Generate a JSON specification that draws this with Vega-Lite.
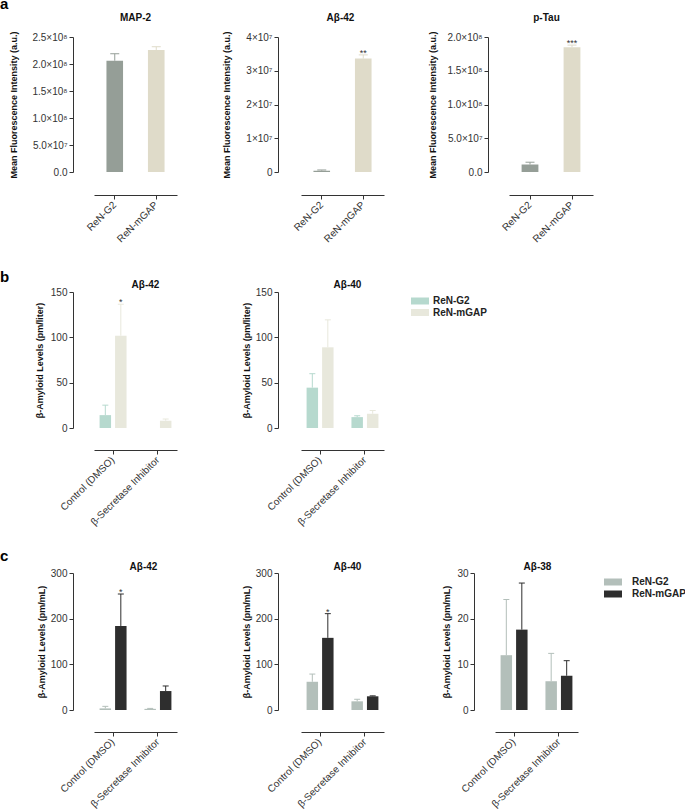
{
  "$schema": "https://vega.github.io/schema/vega-lite/v6.json",
  "padding": {"left": 0, "top": -3, "right": 5, "bottom": 5},
  "background": "white",
  "columns": 3,
  "spacing": {"row": 120, "column": 111},
  "bounds": "flush",
  "resolve": {"scale": {"color": "independent"}, "legend": {"color": "independent"}},
  "datasets": {
    "fluor": [
      {"panel": "MAP-2", "strain": "ReN-G2", "mean": 206000000, "upper": 219000000, "sig": ""},
      {"panel": "MAP-2", "strain": "ReN-mGAP", "mean": 226000000, "upper": 232000000, "sig": ""},
      {"panel": "Aβ-42", "strain": "ReN-G2", "mean": 400000, "upper": 600000, "sig": ""},
      {"panel": "Aβ-42", "strain": "ReN-mGAP", "mean": 33600000, "upper": 34700000, "sig": "**"},
      {"panel": "p-Tau", "strain": "ReN-G2", "mean": 11000000, "upper": 14500000, "sig": ""},
      {"panel": "p-Tau", "strain": "ReN-mGAP", "mean": 185000000, "upper": 188000000, "sig": "***"}
    ],
    "elisaB": [
      {"panel": "Aβ-42", "treatment": "Control (DMSO)", "strain": "ReN-G2", "mean": 14.2, "upper": 25.2, "sig": ""},
      {"panel": "Aβ-42", "treatment": "Control (DMSO)", "strain": "ReN-mGAP", "mean": 101.8, "upper": 136.5, "sig": "*"},
      {"panel": "Aβ-42", "treatment": "β-Secretase Inhibitor", "strain": "ReN-mGAP", "mean": 8.0, "upper": 9.9, "sig": ""},
      {"panel": "Aβ-40", "treatment": "Control (DMSO)", "strain": "ReN-G2", "mean": 44.5, "upper": 59.9, "sig": ""},
      {"panel": "Aβ-40", "treatment": "Control (DMSO)", "strain": "ReN-mGAP", "mean": 89.0, "upper": 119.3, "sig": ""},
      {"panel": "Aβ-40", "treatment": "β-Secretase Inhibitor", "strain": "ReN-G2", "mean": 12.0, "upper": 13.5, "sig": ""},
      {"panel": "Aβ-40", "treatment": "β-Secretase Inhibitor", "strain": "ReN-mGAP", "mean": 15.7, "upper": 19.3, "sig": ""}
    ],
    "elisaC": [
      {"panel": "Aβ-42", "treatment": "Control (DMSO)", "strain": "ReN-G2", "mean": 3.5, "upper": 8.0, "sig": ""},
      {"panel": "Aβ-42", "treatment": "Control (DMSO)", "strain": "ReN-mGAP", "mean": 184, "upper": 254, "sig": "*"},
      {"panel": "Aβ-42", "treatment": "β-Secretase Inhibitor", "strain": "ReN-G2", "mean": 2.5, "upper": 3.5, "sig": ""},
      {"panel": "Aβ-42", "treatment": "β-Secretase Inhibitor", "strain": "ReN-mGAP", "mean": 41.5, "upper": 52.6, "sig": ""},
      {"panel": "Aβ-40", "treatment": "Control (DMSO)", "strain": "ReN-G2", "mean": 61.8, "upper": 78.7, "sig": ""},
      {"panel": "Aβ-40", "treatment": "Control (DMSO)", "strain": "ReN-mGAP", "mean": 158, "upper": 211, "sig": "*"},
      {"panel": "Aβ-40", "treatment": "β-Secretase Inhibitor", "strain": "ReN-G2", "mean": 19.0, "upper": 23.5, "sig": ""},
      {"panel": "Aβ-40", "treatment": "β-Secretase Inhibitor", "strain": "ReN-mGAP", "mean": 30.0, "upper": 31.0, "sig": ""},
      {"panel": "Aβ-38", "treatment": "Control (DMSO)", "strain": "ReN-G2", "mean": 12.0, "upper": 24.2, "sig": ""},
      {"panel": "Aβ-38", "treatment": "Control (DMSO)", "strain": "ReN-mGAP", "mean": 17.6, "upper": 27.8, "sig": ""},
      {"panel": "Aβ-38", "treatment": "β-Secretase Inhibitor", "strain": "ReN-G2", "mean": 6.3, "upper": 12.4, "sig": ""},
      {"panel": "Aβ-38", "treatment": "β-Secretase Inhibitor", "strain": "ReN-mGAP", "mean": 7.5, "upper": 10.8, "sig": ""}
    ],
    "blank": [{"x": 0}]
  },
  "concat": [
    {
      "width": 96, "height": 135,
      "title": {"text": "a", "anchor": "start", "frame": "group", "dx": -94, "offset": 0, "fontSize": 15, "color": "#000"},
      "data": {"name": "fluor"},
      "transform": [{"filter": "datum.panel === 'MAP-2'"}],
      "encoding": {
        "x": {"field": "strain", "type": "nominal",
          "scale": {"domain": ["ReN-G2", "ReN-mGAP"], "range": [0, 83], "paddingInner": 0.6, "paddingOuter": 0.3},
          "axis": {"title": "MAP-2", "offset": 23, "titleX": 41, "titleY": -178}},
        "color": {"field": "strain", "type": "nominal", "scale": {"domain": ["ReN-G2", "ReN-mGAP"], "range": ["#959e97", "#dfdbc9"]}, "legend": null}
      },
      "layer": [
        {"mark": {"type": "bar"}, "encoding": {"y": {"field": "mean", "type": "quantitative", "title": "Mean Fluorescence Intensity (a.u.)", "scale": {"domain": [0, 250000000], "nice": false},
          "axis": {"offset": 21, "values": [0, 50000000, 100000000, 150000000, 200000000, 250000000], "labelOverlap": false, "titlePadding": 13, "labelExpr": "datum.value == 0 ? '0.0' : datum.value < 100000000 ? format(datum.value/10000000, '.1f') + '×10⁷' : format(datum.value/100000000, '.1f') + '×10⁸'"}}}},
        {"mark": {"type": "rule", "strokeWidth": 1}, "encoding": {"y": {"field": "mean", "type": "quantitative", "title": "Mean Fluorescence Intensity (a.u.)",
          "axis": {"offset": 21, "values": [0, 50000000, 100000000, 150000000, 200000000, 250000000], "labelOverlap": false, "titlePadding": 13, "labelExpr": "datum.value == 0 ? '0.0' : datum.value < 100000000 ? format(datum.value/10000000, '.1f') + '×10⁷' : format(datum.value/100000000, '.1f') + '×10⁸'"}}, "y2": {"field": "upper"}}},
        {"mark": {"type": "tick", "size": 9, "thickness": 1}, "encoding": {"y": {"field": "upper", "type": "quantitative", "title": "Mean Fluorescence Intensity (a.u.)",
          "axis": {"offset": 21, "values": [0, 50000000, 100000000, 150000000, 200000000, 250000000], "labelOverlap": false, "titlePadding": 13, "labelExpr": "datum.value == 0 ? '0.0' : datum.value < 100000000 ? format(datum.value/10000000, '.1f') + '×10⁷' : format(datum.value/100000000, '.1f') + '×10⁸'"}}}},
        {"mark": {"type": "text", "dy": -2, "fontSize": 9}, "encoding": {"y": {"field": "upper", "type": "quantitative", "title": "Mean Fluorescence Intensity (a.u.)",
          "axis": {"offset": 21, "values": [0, 50000000, 100000000, 150000000, 200000000, 250000000], "labelOverlap": false, "titlePadding": 13, "labelExpr": "datum.value == 0 ? '0.0' : datum.value < 100000000 ? format(datum.value/10000000, '.1f') + '×10⁷' : format(datum.value/100000000, '.1f') + '×10⁸'"}}, "text": {"field": "sig"}, "color": {"value": "#333"}}}
      ]
    },
    {
      "width": 83, "height": 135,
      "data": {"name": "fluor"},
      "transform": [{"filter": "datum.panel === 'Aβ-42'"}],
      "encoding": {
        "x": {"field": "strain", "type": "nominal",
          "scale": {"domain": ["ReN-G2", "ReN-mGAP"], "paddingInner": 0.6, "paddingOuter": 0.3},
          "axis": {"title": "Aβ-42", "offset": 23, "titleX": 39, "titleY": -178}},
        "color": {"field": "strain", "type": "nominal", "scale": {"domain": ["ReN-G2", "ReN-mGAP"], "range": ["#959e97", "#dfdbc9"]}, "legend": null}
      },
      "layer": [
        {"mark": {"type": "bar"}, "encoding": {"y": {"field": "mean", "type": "quantitative", "title": "Mean Fluorescence Intensity (a.u.)", "scale": {"domain": [0, 40000000], "nice": false},
          "axis": {"offset": 23, "values": [0, 10000000, 20000000, 30000000, 40000000], "labelOverlap": false, "titlePadding": 14, "labelExpr": "datum.value == 0 ? '0' : format(datum.value/10000000, 'd') + '×10⁷'"}}}},
        {"mark": {"type": "rule", "strokeWidth": 1}, "encoding": {"y": {"field": "mean", "type": "quantitative", "title": "Mean Fluorescence Intensity (a.u.)",
          "axis": {"offset": 23, "values": [0, 10000000, 20000000, 30000000, 40000000], "labelOverlap": false, "titlePadding": 14, "labelExpr": "datum.value == 0 ? '0' : format(datum.value/10000000, 'd') + '×10⁷'"}}, "y2": {"field": "upper"}}},
        {"mark": {"type": "tick", "size": 9, "thickness": 1}, "encoding": {"y": {"field": "upper", "type": "quantitative", "title": "Mean Fluorescence Intensity (a.u.)",
          "axis": {"offset": 23, "values": [0, 10000000, 20000000, 30000000, 40000000], "labelOverlap": false, "titlePadding": 14, "labelExpr": "datum.value == 0 ? '0' : format(datum.value/10000000, 'd') + '×10⁷'"}}}},
        {"mark": {"type": "text", "dy": -2, "fontSize": 9}, "encoding": {"y": {"field": "upper", "type": "quantitative", "title": "Mean Fluorescence Intensity (a.u.)",
          "axis": {"offset": 23, "values": [0, 10000000, 20000000, 30000000, 40000000], "labelOverlap": false, "titlePadding": 14, "labelExpr": "datum.value == 0 ? '0' : format(datum.value/10000000, 'd') + '×10⁷'"}}, "text": {"field": "sig"}, "color": {"value": "#333"}}}
      ]
    },
    {
      "width": 98, "height": 135,
      "data": {"name": "fluor"},
      "transform": [{"filter": "datum.panel === 'p-Tau'"}],
      "encoding": {
        "x": {"field": "strain", "type": "nominal",
          "scale": {"domain": ["ReN-G2", "ReN-mGAP"], "range": [14, 98], "paddingInner": 0.6, "paddingOuter": 0.3},
          "axis": {"title": "p-Tau", "offset": 23, "titleX": 51, "titleY": -178}},
        "color": {"field": "strain", "type": "nominal", "scale": {"domain": ["ReN-G2", "ReN-mGAP"], "range": ["#959e97", "#dfdbc9"]}, "legend": null}
      },
      "layer": [
        {"mark": {"type": "bar"}, "encoding": {"y": {"field": "mean", "type": "quantitative", "title": "Mean Fluorescence Intensity (a.u.)", "scale": {"domain": [0, 200000000], "nice": false},
          "axis": {"offset": 7, "values": [0, 50000000, 100000000, 150000000, 200000000], "labelOverlap": false, "titlePadding": 9, "labelExpr": "datum.value == 0 ? '0.0' : datum.value < 100000000 ? format(datum.value/10000000, '.1f') + '×10⁷' : format(datum.value/100000000, '.1f') + '×10⁸'"}}}},
        {"mark": {"type": "rule", "strokeWidth": 1}, "encoding": {"y": {"field": "mean", "type": "quantitative", "title": "Mean Fluorescence Intensity (a.u.)",
          "axis": {"offset": 7, "values": [0, 50000000, 100000000, 150000000, 200000000], "labelOverlap": false, "titlePadding": 9, "labelExpr": "datum.value == 0 ? '0.0' : datum.value < 100000000 ? format(datum.value/10000000, '.1f') + '×10⁷' : format(datum.value/100000000, '.1f') + '×10⁸'"}}, "y2": {"field": "upper"}}},
        {"mark": {"type": "tick", "size": 9, "thickness": 1}, "encoding": {"y": {"field": "upper", "type": "quantitative", "title": "Mean Fluorescence Intensity (a.u.)",
          "axis": {"offset": 7, "values": [0, 50000000, 100000000, 150000000, 200000000], "labelOverlap": false, "titlePadding": 9, "labelExpr": "datum.value == 0 ? '0.0' : datum.value < 100000000 ? format(datum.value/10000000, '.1f') + '×10⁷' : format(datum.value/100000000, '.1f') + '×10⁸'"}}}},
        {"mark": {"type": "text", "dy": -2, "fontSize": 9}, "encoding": {"y": {"field": "upper", "type": "quantitative", "title": "Mean Fluorescence Intensity (a.u.)",
          "axis": {"offset": 7, "values": [0, 50000000, 100000000, 150000000, 200000000], "labelOverlap": false, "titlePadding": 9, "labelExpr": "datum.value == 0 ? '0.0' : datum.value < 100000000 ? format(datum.value/10000000, '.1f') + '×10⁷' : format(datum.value/100000000, '.1f') + '×10⁸'"}}, "text": {"field": "sig"}, "color": {"value": "#333"}}}
      ]
    },
    {
      "width": 96, "height": 136,
      "title": {"text": "b", "anchor": "start", "frame": "group", "dx": -94, "offset": -5, "fontSize": 15, "color": "#000"},
      "data": {"name": "elisaB"},
      "transform": [{"filter": "datum.panel === 'Aβ-42'"}],
      "encoding": {
        "x": {"field": "treatment", "type": "nominal",
          "scale": {"domain": ["Control (DMSO)", "β-Secretase Inhibitor"], "range": [0, 83], "paddingInner": 0.15, "paddingOuter": 0},
          "axis": {"title": "Aβ-42", "offset": 22, "titleX": 51, "titleY": -165.5}},
        "xOffset": {"field": "strain", "type": "nominal", "scale": {"domain": ["ReN-G2", "ReN-mGAP"], "paddingInner": 0.26, "paddingOuter": 0.36}},
        "color": {"field": "strain", "type": "nominal", "scale": {"domain": ["ReN-G2", "ReN-mGAP"], "range": ["#b6d9ce", "#e8e8dc"]}, "legend": null}
      },
      "layer": [
        {"mark": {"type": "bar"}, "encoding": {"y": {"field": "mean", "type": "quantitative", "title": "β-Amyloid Levels (pm/liter)", "scale": {"domain": [0, 150], "nice": false},
          "axis": {"offset": 21, "values": [0, 50, 100, 150], "labelOverlap": false, "titlePadding": 6}}}},
        {"mark": {"type": "rule", "strokeWidth": 1}, "encoding": {"y": {"field": "mean", "type": "quantitative", "title": "β-Amyloid Levels (pm/liter)", "axis": {"offset": 21, "values": [0, 50, 100, 150], "labelOverlap": false, "titlePadding": 6}}, "y2": {"field": "upper"}}},
        {"mark": {"type": "tick", "size": 6, "thickness": 1}, "encoding": {"y": {"field": "upper", "type": "quantitative", "title": "β-Amyloid Levels (pm/liter)", "axis": {"offset": 21, "values": [0, 50, 100, 150], "labelOverlap": false, "titlePadding": 6}}}},
        {"mark": {"type": "text", "dy": -2, "fontSize": 9}, "encoding": {"y": {"field": "upper", "type": "quantitative", "title": "β-Amyloid Levels (pm/liter)", "axis": {"offset": 21, "values": [0, 50, 100, 150], "labelOverlap": false, "titlePadding": 6}}, "text": {"field": "sig"}, "color": {"value": "#333"}}}
      ]
    },
    {
      "width": 83, "height": 136,
      "data": {"name": "elisaB"},
      "transform": [{"filter": "datum.panel === 'Aβ-40'"}],
      "encoding": {
        "x": {"field": "treatment", "type": "nominal",
          "scale": {"domain": ["Control (DMSO)", "β-Secretase Inhibitor"], "paddingInner": 0.15, "paddingOuter": 0},
          "axis": {"title": "Aβ-40", "offset": 22, "titleX": 46, "titleY": -165.5}},
        "xOffset": {"field": "strain", "type": "nominal", "scale": {"domain": ["ReN-G2", "ReN-mGAP"], "paddingInner": 0.26, "paddingOuter": 0.36}},
        "color": {"field": "strain", "type": "nominal", "scale": {"domain": ["ReN-G2", "ReN-mGAP"], "range": ["#b6d9ce", "#e8e8dc"]},
          "legend": {"orient": "none", "legendX": 114, "legendY": 4, "title": null, "padding": 0, "symbolType": "M-1.8,-0.7H1.8V0.7H-1.8Z", "symbolSize": 100, "symbolStrokeWidth": 0, "symbolOpacity": 1, "labelFontSize": 10, "labelFontWeight": "bold", "labelColor": "#222", "labelOffset": 8, "rowPadding": 1.5}}
      },
      "layer": [
        {"mark": {"type": "bar"}, "encoding": {"y": {"field": "mean", "type": "quantitative", "title": "β-Amyloid Levels (pm/liter)", "scale": {"domain": [0, 150], "nice": false},
          "axis": {"offset": 23, "values": [0, 50, 100, 150], "labelOverlap": false, "titlePadding": 4}}}},
        {"mark": {"type": "rule", "strokeWidth": 1}, "encoding": {"y": {"field": "mean", "type": "quantitative", "title": "β-Amyloid Levels (pm/liter)", "axis": {"offset": 23, "values": [0, 50, 100, 150], "labelOverlap": false, "titlePadding": 4}}, "y2": {"field": "upper"}}},
        {"mark": {"type": "tick", "size": 6, "thickness": 1}, "encoding": {"y": {"field": "upper", "type": "quantitative", "title": "β-Amyloid Levels (pm/liter)", "axis": {"offset": 23, "values": [0, 50, 100, 150], "labelOverlap": false, "titlePadding": 4}}}},
        {"mark": {"type": "text", "dy": -2, "fontSize": 9}, "encoding": {"y": {"field": "upper", "type": "quantitative", "title": "β-Amyloid Levels (pm/liter)", "axis": {"offset": 23, "values": [0, 50, 100, 150], "labelOverlap": false, "titlePadding": 4}}, "text": {"field": "sig"}, "color": {"value": "#333"}}}
      ]
    },
    {
      "width": 98, "height": 136,
      "data": {"name": "blank"},
      "mark": {"type": "text"},
      "encoding": {"text": {"value": ""}}
    },
    {
      "width": 96, "height": 162,
      "title": {"text": "c", "anchor": "start", "frame": "group", "dx": -94, "offset": -16, "fontSize": 15, "color": "#000"},
      "data": {"name": "elisaC"},
      "transform": [{"filter": "datum.panel === 'Aβ-42'"}],
      "encoding": {
        "x": {"field": "treatment", "type": "nominal",
          "scale": {"domain": ["Control (DMSO)", "β-Secretase Inhibitor"], "range": [0, 83], "paddingInner": 0.15, "paddingOuter": 0},
          "axis": {"title": "Aβ-42", "offset": 22, "titleX": 49, "titleY": -166}},
        "xOffset": {"field": "strain", "type": "nominal", "scale": {"domain": ["ReN-G2", "ReN-mGAP"], "paddingInner": 0.26, "paddingOuter": 0.36}},
        "color": {"field": "strain", "type": "nominal", "scale": {"domain": ["ReN-G2", "ReN-mGAP"], "range": ["#b3bfba", "#2e2e2e"]}, "legend": null}
      },
      "layer": [
        {"mark": {"type": "bar"}, "encoding": {"y": {"field": "mean", "type": "quantitative", "title": "β-Amyloid Levels (pm/mL)", "scale": {"domain": [0, 300], "nice": false, "range": [162, 25]},
          "axis": {"offset": 21, "values": [0, 100, 200, 300], "labelOverlap": false, "titlePadding": 4}}}},
        {"mark": {"type": "rule", "strokeWidth": 1}, "encoding": {"y": {"field": "mean", "type": "quantitative", "title": "β-Amyloid Levels (pm/mL)", "axis": {"offset": 21, "values": [0, 100, 200, 300], "labelOverlap": false, "titlePadding": 4}}, "y2": {"field": "upper"}}},
        {"mark": {"type": "tick", "size": 6, "thickness": 1}, "encoding": {"y": {"field": "upper", "type": "quantitative", "title": "β-Amyloid Levels (pm/mL)", "axis": {"offset": 21, "values": [0, 100, 200, 300], "labelOverlap": false, "titlePadding": 4}}}},
        {"mark": {"type": "text", "dy": -2, "fontSize": 9}, "encoding": {"y": {"field": "upper", "type": "quantitative", "title": "β-Amyloid Levels (pm/mL)", "axis": {"offset": 21, "values": [0, 100, 200, 300], "labelOverlap": false, "titlePadding": 4}}, "text": {"field": "sig"}, "color": {"value": "#333"}}}
      ]
    },
    {
      "width": 83, "height": 162,
      "data": {"name": "elisaC"},
      "transform": [{"filter": "datum.panel === 'Aβ-40'"}],
      "encoding": {
        "x": {"field": "treatment", "type": "nominal",
          "scale": {"domain": ["Control (DMSO)", "β-Secretase Inhibitor"], "paddingInner": 0.15, "paddingOuter": 0},
          "axis": {"title": "Aβ-40", "offset": 22, "titleX": 46, "titleY": -166}},
        "xOffset": {"field": "strain", "type": "nominal", "scale": {"domain": ["ReN-G2", "ReN-mGAP"], "paddingInner": 0.26, "paddingOuter": 0.36}},
        "color": {"field": "strain", "type": "nominal", "scale": {"domain": ["ReN-G2", "ReN-mGAP"], "range": ["#b3bfba", "#2e2e2e"]}, "legend": null}
      },
      "layer": [
        {"mark": {"type": "bar"}, "encoding": {"y": {"field": "mean", "type": "quantitative", "title": "β-Amyloid Levels (pm/mL)", "scale": {"domain": [0, 300], "nice": false, "range": [162, 25]},
          "axis": {"offset": 23, "values": [0, 100, 200, 300], "labelOverlap": false, "titlePadding": 4}}}},
        {"mark": {"type": "rule", "strokeWidth": 1}, "encoding": {"y": {"field": "mean", "type": "quantitative", "title": "β-Amyloid Levels (pm/mL)", "axis": {"offset": 23, "values": [0, 100, 200, 300], "labelOverlap": false, "titlePadding": 4}}, "y2": {"field": "upper"}}},
        {"mark": {"type": "tick", "size": 6, "thickness": 1}, "encoding": {"y": {"field": "upper", "type": "quantitative", "title": "β-Amyloid Levels (pm/mL)", "axis": {"offset": 23, "values": [0, 100, 200, 300], "labelOverlap": false, "titlePadding": 4}}}},
        {"mark": {"type": "text", "dy": -2, "fontSize": 9}, "encoding": {"y": {"field": "upper", "type": "quantitative", "title": "β-Amyloid Levels (pm/mL)", "axis": {"offset": 23, "values": [0, 100, 200, 300], "labelOverlap": false, "titlePadding": 4}}, "text": {"field": "sig"}, "color": {"value": "#333"}}}
      ]
    },
    {
      "width": 98, "height": 162,
      "data": {"name": "elisaC"},
      "transform": [{"filter": "datum.panel === 'Aβ-38'"}],
      "encoding": {
        "x": {"field": "treatment", "type": "nominal",
          "scale": {"domain": ["Control (DMSO)", "β-Secretase Inhibitor"], "range": [0, 83], "paddingInner": 0.15, "paddingOuter": 0},
          "axis": {"title": "Aβ-38", "offset": 22, "titleX": 42, "titleY": -166}},
        "xOffset": {"field": "strain", "type": "nominal", "scale": {"domain": ["ReN-G2", "ReN-mGAP"], "paddingInner": 0.26, "paddingOuter": 0.36}},
        "color": {"field": "strain", "type": "nominal", "scale": {"domain": ["ReN-G2", "ReN-mGAP"], "range": ["#b3bfba", "#2e2e2e"]},
          "legend": {"orient": "none", "legendX": 113, "legendY": 29, "title": null, "padding": 0, "symbolType": "M-1.8,-0.7H1.8V0.7H-1.8Z", "symbolSize": 100, "symbolStrokeWidth": 0, "symbolOpacity": 1, "labelFontSize": 10, "labelFontWeight": "bold", "labelColor": "#222", "labelOffset": 14, "rowPadding": 2}}
      },
      "layer": [
        {"mark": {"type": "bar"}, "encoding": {"y": {"field": "mean", "type": "quantitative", "title": "β-Amyloid Levels (pm/mL)", "scale": {"domain": [0, 30], "nice": false, "range": [162, 25]},
          "axis": {"offset": 21, "values": [0, 10, 20, 30], "labelOverlap": false, "titlePadding": 5}}}},
        {"mark": {"type": "rule", "strokeWidth": 1}, "encoding": {"y": {"field": "mean", "type": "quantitative", "title": "β-Amyloid Levels (pm/mL)", "axis": {"offset": 21, "values": [0, 10, 20, 30], "labelOverlap": false, "titlePadding": 5}}, "y2": {"field": "upper"}}},
        {"mark": {"type": "tick", "size": 6, "thickness": 1}, "encoding": {"y": {"field": "upper", "type": "quantitative", "title": "β-Amyloid Levels (pm/mL)", "axis": {"offset": 21, "values": [0, 10, 20, 30], "labelOverlap": false, "titlePadding": 5}}}},
        {"mark": {"type": "text", "dy": -2, "fontSize": 9}, "encoding": {"y": {"field": "upper", "type": "quantitative", "title": "β-Amyloid Levels (pm/mL)", "axis": {"offset": 21, "values": [0, 10, 20, 30], "labelOverlap": false, "titlePadding": 5}}, "text": {"field": "sig"}, "color": {"value": "#333"}}}
      ]
    }
  ],
  "config": {
    "font": "Liberation Sans",
    "view": {"stroke": null},
    "bar": {"opacity": 1},
    "tick": {"opacity": 1},
    "axis": {"grid": false, "domainColor": "#333", "tickColor": "#333", "labelColor": "#333", "labelFontSize": 10, "titleFontSize": 9, "titleFontWeight": "bold", "titleColor": "#111", "tickSize": 4, "labelPadding": 2, "labelOverlap": false},
    "axisX": {"labelAngle": -45, "labelAlign": "right", "labelBaseline": "middle", "labelPadding": 4, "titleAngle": 0, "titleAlign": "center", "titleAnchor": "middle", "titleBaseline": "middle", "titleFontSize": 10},
    "title": {"fontSize": 9.5, "fontWeight": "bold", "color": "#111", "baseline": "bottom"},
    "legend": {"symbolStrokeWidth": 0}
  }
}
